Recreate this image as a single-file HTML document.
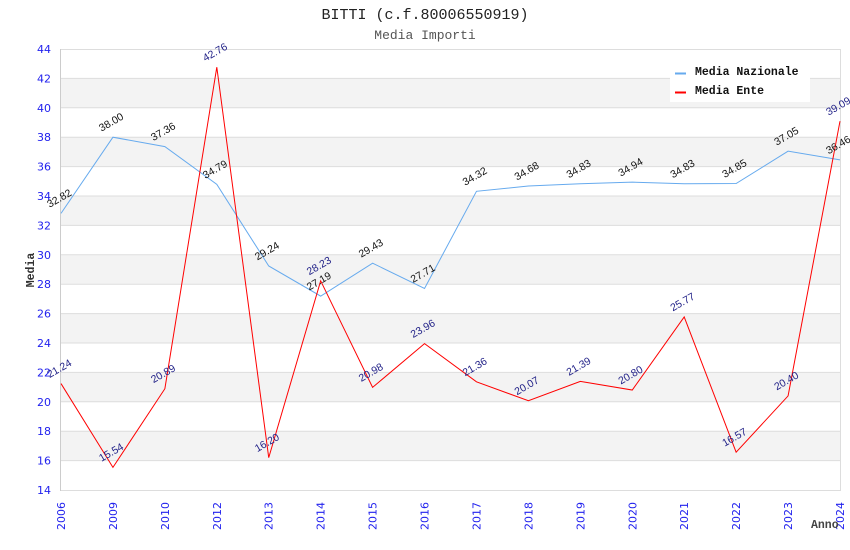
<!DOCTYPE html>
<html>
<head>
<meta charset="utf-8">
<style>
html,body{margin:0;padding:0;background:#fff;}
svg{display:block;}
</style>
</head>
<body>
<svg width="850" height="550" viewBox="0 0 850 550" xmlns="http://www.w3.org/2000/svg">
<rect x="0" y="0" width="850" height="550" fill="#fff"/>
<!-- bands -->
<g fill="#f3f3f3">
<rect x="61" y="78.4" width="779" height="29.4"/>
<rect x="61" y="137.2" width="779" height="29.4"/>
<rect x="61" y="196" width="779" height="29.4"/>
<rect x="61" y="254.8" width="779" height="29.4"/>
<rect x="61" y="313.6" width="779" height="29.4"/>
<rect x="61" y="372.4" width="779" height="29.4"/>
<rect x="61" y="431.2" width="779" height="29.4"/>
</g>
<!-- grid -->
<g stroke="#dddddd" stroke-width="1">
<line x1="61" y1="49.5" x2="840" y2="49.5"/>
<line x1="61" y1="78.4" x2="840" y2="78.4"/>
<line x1="61" y1="107.8" x2="840" y2="107.8"/>
<line x1="61" y1="137.2" x2="840" y2="137.2"/>
<line x1="61" y1="166.6" x2="840" y2="166.6"/>
<line x1="61" y1="196" x2="840" y2="196"/>
<line x1="61" y1="225.4" x2="840" y2="225.4"/>
<line x1="61" y1="254.8" x2="840" y2="254.8"/>
<line x1="61" y1="284.2" x2="840" y2="284.2"/>
<line x1="61" y1="313.6" x2="840" y2="313.6"/>
<line x1="61" y1="343" x2="840" y2="343"/>
<line x1="61" y1="372.4" x2="840" y2="372.4"/>
<line x1="61" y1="401.8" x2="840" y2="401.8"/>
<line x1="61" y1="431.2" x2="840" y2="431.2"/>
<line x1="61" y1="460.6" x2="840" y2="460.6"/>
<line x1="61" y1="490.5" x2="840" y2="490.5"/>
<line x1="60.5" y1="49" x2="60.5" y2="491" stroke="#cccccc"/>
<line x1="840.5" y1="49" x2="840.5" y2="491"/>
</g>
<!-- y tick labels -->
<g font-family="'DejaVu Sans', 'Liberation Sans', sans-serif" font-size="11" fill="#2222ee" text-anchor="end">
<text x="51" y="53">44</text>
<text x="51" y="82.4">42</text>
<text x="51" y="111.8">40</text>
<text x="51" y="141.2">38</text>
<text x="51" y="170.6">36</text>
<text x="51" y="200">34</text>
<text x="51" y="229.4">32</text>
<text x="51" y="258.8">30</text>
<text x="51" y="288.2">28</text>
<text x="51" y="317.6">26</text>
<text x="51" y="347">24</text>
<text x="51" y="376.4">22</text>
<text x="51" y="405.8">20</text>
<text x="51" y="435.2">18</text>
<text x="51" y="464.6">16</text>
<text x="51" y="494">14</text>
</g>
<!-- x tick labels -->
<g font-family="'DejaVu Sans', 'Liberation Sans', sans-serif" font-size="11" fill="#2222ee" text-anchor="end">
<text transform="translate(65,502) rotate(-90)">2006</text>
<text transform="translate(116.9,502) rotate(-90)">2009</text>
<text transform="translate(168.9,502) rotate(-90)">2010</text>
<text transform="translate(220.8,502) rotate(-90)">2012</text>
<text transform="translate(272.7,502) rotate(-90)">2013</text>
<text transform="translate(324.7,502) rotate(-90)">2014</text>
<text transform="translate(376.6,502) rotate(-90)">2015</text>
<text transform="translate(428.5,502) rotate(-90)">2016</text>
<text transform="translate(480.5,502) rotate(-90)">2017</text>
<text transform="translate(532.4,502) rotate(-90)">2018</text>
<text transform="translate(584.3,502) rotate(-90)">2019</text>
<text transform="translate(636.3,502) rotate(-90)">2020</text>
<text transform="translate(688.2,502) rotate(-90)">2021</text>
<text transform="translate(740.1,502) rotate(-90)">2022</text>
<text transform="translate(792.1,502) rotate(-90)">2023</text>
<text transform="translate(844,502) rotate(-90)">2024</text>
</g>
<!-- series -->
<polyline fill="none" stroke="#66aaee" stroke-width="1" points="61,213.35 112.93,137.2 164.87,146.61 216.8,184.39 268.73,265.97 320.67,296.11 372.6,263.18 424.53,288.46 476.47,191.3 528.4,186 580.33,183.8 632.27,182.18 684.2,183.8 736.13,183.51 788.07,151.17 840,159.84"/>
<polyline fill="none" stroke="#ff0000" stroke-width="1" points="61,383.57 112.93,467.36 164.87,388.72 216.8,67.23 268.73,457.66 320.67,280.82 372.6,387.39 424.53,343.59 476.47,381.81 528.4,400.77 580.33,381.37 632.27,390.04 684.2,316.98 736.13,452.22 788.07,395.92 840,121.18"/>
<!-- value labels nazionale -->
<g font-family="'Liberation Sans', sans-serif" font-size="10.5" fill="#111" text-anchor="middle">
<text transform="translate(61,201.35) rotate(-30)">32.82</text>
<text transform="translate(112.93,125.2) rotate(-30)">38.00</text>
<text transform="translate(164.87,134.61) rotate(-30)">37.36</text>
<text transform="translate(216.8,172.39) rotate(-30)">34.79</text>
<text transform="translate(268.73,253.97) rotate(-30)">29.24</text>
<text transform="translate(320.67,284.11) rotate(-30)">27.19</text>
<text transform="translate(372.6,251.18) rotate(-30)">29.43</text>
<text transform="translate(424.53,276.46) rotate(-30)">27.71</text>
<text transform="translate(476.47,179.3) rotate(-30)">34.32</text>
<text transform="translate(528.4,174) rotate(-30)">34.68</text>
<text transform="translate(580.33,171.8) rotate(-30)">34.83</text>
<text transform="translate(632.27,170.18) rotate(-30)">34.94</text>
<text transform="translate(684.2,171.8) rotate(-30)">34.83</text>
<text transform="translate(736.13,171.51) rotate(-30)">34.85</text>
<text transform="translate(788.07,139.17) rotate(-30)">37.05</text>
<text transform="translate(840,147.84) rotate(-30)">36.46</text>
</g>
<!-- value labels ente -->
<g font-family="'Liberation Sans', sans-serif" font-size="10.5" fill="#222288" text-anchor="middle">
<text transform="translate(61,371.57) rotate(-30)">21.24</text>
<text transform="translate(112.93,455.36) rotate(-30)">15.54</text>
<text transform="translate(164.87,376.72) rotate(-30)">20.89</text>
<text transform="translate(216.8,55.23) rotate(-30)">42.76</text>
<text transform="translate(268.73,445.66) rotate(-30)">16.20</text>
<text transform="translate(320.67,268.82) rotate(-30)">28.23</text>
<text transform="translate(372.6,375.39) rotate(-30)">20.98</text>
<text transform="translate(424.53,331.59) rotate(-30)">23.96</text>
<text transform="translate(476.47,369.81) rotate(-30)">21.36</text>
<text transform="translate(528.4,388.77) rotate(-30)">20.07</text>
<text transform="translate(580.33,369.37) rotate(-30)">21.39</text>
<text transform="translate(632.27,378.04) rotate(-30)">20.80</text>
<text transform="translate(684.2,304.98) rotate(-30)">25.77</text>
<text transform="translate(736.13,440.22) rotate(-30)">16.57</text>
<text transform="translate(788.07,383.92) rotate(-30)">20.40</text>
<text transform="translate(840,109.18) rotate(-30)">39.09</text>
</g>
<!-- legend -->
<rect x="670" y="63" width="140" height="39" fill="#ffffff"/>
<line x1="675" y1="73.5" x2="686" y2="73.5" stroke="#66aaee" stroke-width="2"/>
<line x1="675" y1="92.5" x2="686" y2="92.5" stroke="#ff0000" stroke-width="2"/>
<g font-family="'Liberation Mono', 'DejaVu Sans Mono', monospace" font-size="11.5" font-weight="bold" fill="#111">
<text x="695" y="75">Media Nazionale</text>
<text x="695" y="94">Media Ente</text>
</g>
<!-- titles -->
<text x="425" y="19" text-anchor="middle" font-family="'Liberation Mono', 'DejaVu Sans Mono', monospace" font-size="15" fill="#222">BITTI (c.f.80006550919)</text>
<text x="425" y="39" text-anchor="middle" font-family="'Liberation Mono', 'DejaVu Sans Mono', monospace" font-size="13" fill="#555">Media Importi</text>
<!-- axis titles -->
<text transform="translate(34,270) rotate(-90)" text-anchor="middle" font-family="'Liberation Mono', 'DejaVu Sans Mono', monospace" font-size="11.5" font-weight="bold" fill="#333">Media</text>
<text x="811" y="528" font-family="'Liberation Mono', 'DejaVu Sans Mono', monospace" font-size="11.5" font-weight="bold" fill="#444">Anno</text>
</svg>
</body>
</html>
